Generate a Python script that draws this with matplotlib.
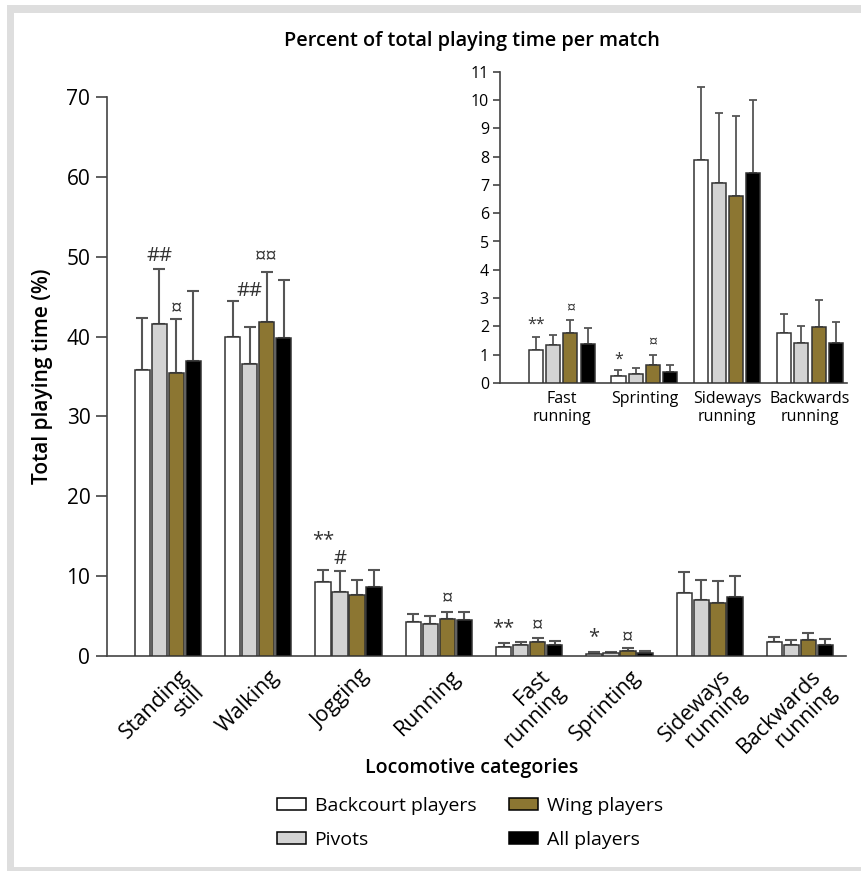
import numpy as np
import matplotlib
matplotlib.use("Agg")
import matplotlib.pyplot as plt
from matplotlib.patches import Rectangle, Patch

plt.rcParams['font.family'] = ['Open Sans', 'DejaVu Sans']

categories = ["Standing\nstill", "Walking", "Jogging", "Running", "Fast\nrunning",
              "Sprinting", "Sideways\nrunning", "Backwards\nrunning"]
inset_categories = ["Fast\nrunning", "Sprinting", "Sideways\nrunning", "Backwards\nrunning"]
groups = ["Backcourt players", "Pivots", "Wing players", "All players"]

backcourt = [35.8, 40.0, 9.3, 4.3, 1.15, 0.25, 7.87, 1.78]
pivots = [41.6, 36.6, 8.0, 4.0, 1.35, 0.33, 7.07, 1.40]
wing = [35.5, 41.8, 7.6, 4.6, 1.75, 0.62, 6.60, 1.97]
all_players = [37.0, 39.8, 8.7, 4.45, 1.38, 0.38, 7.43, 1.40]

sd_backcourt = [6.5, 4.5, 1.5, 1.0, 0.47, 0.20, 2.60, 0.65]
sd_pivots = [6.8, 4.6, 2.7, 1.0, 0.35, 0.19, 2.48, 0.60]
sd_wing = [6.75, 6.3, 1.9, 0.9, 0.48, 0.38, 2.85, 0.96]
sd_all = [8.7, 7.3, 2.05, 1.05, 0.55, 0.27, 2.57, 0.77]

# significance marks: (category index, group index, symbol, pad above error bar)
marks_main = [(0, 1, "##", 1.7), (0, 2, "¤", 1.2), (1, 1, "##", 4.5), (1, 2, "¤¤", 1.8),
              (2, 0, "**", 3.7), (2, 1, "#", 1.5), (3, 2, "¤", 1.6),
              (4, 0, "**", 1.9), (4, 2, "¤", 1.5), (5, 0, "*", 1.9), (5, 2, "¤", 1.25)]
marks_inset = [(0, 0, "**", 0.43), (0, 2, "¤", 0.38), (1, 0, "*", 0.36), (1, 2, "¤", 0.41)]

means = np.array([backcourt, pivots, wing, all_players])
sds = np.array([sd_backcourt, sd_pivots, sd_wing, sd_all])
colors = ["white", "#d3d3d3", "#8c7632", "black"]
edge = "#333333"
ecol = "#555555"

fig = plt.figure(figsize=(8.62, 8.71), dpi=100, facecolor="white")
fig.patches.append(Rectangle((7/862, 0), 2, 1 - 5/871, transform=fig.transFigure,
                             facecolor="#dedede", edgecolor="none", zorder=-10))
fig.patches.append(Rectangle((14/862, 4/871), 2, 1 - 17/871, transform=fig.transFigure,
                             facecolor="white", edgecolor="none", zorder=-9))


def draw_bars(ax, idx, step, width, capsize, lw, marks, fs):
    x = np.arange(len(idx))
    for g in range(4):
        xs = x + (g - 1.5) * step
        m = means[g, idx]
        s = sds[g, idx]
        ax.bar(xs, m, width, color=colors[g], edgecolor=edge, linewidth=1.1, zorder=3)
        ax.errorbar(xs, m, yerr=[np.zeros_like(s), s], fmt="none", ecolor=ecol,
                    elinewidth=lw, capsize=capsize, capthick=lw, zorder=2)
    for c, g, sym, pad in marks:
        xx = c + (g - 1.5) * step
        yy = means[g, idx[c]] + sds[g, idx[c]] + pad
        ax.text(xx, yy, sym, ha="center", va="center", fontsize=fs, color="#333333")
    for sp in ["top", "right"]:
        ax.spines[sp].set_visible(False)
    for sp in ["left", "bottom"]:
        ax.spines[sp].set_color("#444444")
        ax.spines[sp].set_linewidth(1.2)


# main chart
ax = fig.add_axes([107/862, 1 - 656/871, 739/862, 559/871])
draw_bars(ax, list(range(8)), 0.188, 0.17, 4, 1.5, marks_main, 14.5)
ax.set_xlim(-0.675, 7.51)
ax.set_ylim(0, 70)
ax.set_yticks(range(0, 71, 10))
ax.tick_params(axis="y", length=8, width=1.2, color="#444444", labelsize=15, pad=4)
ax.tick_params(axis="x", length=0, pad=7)
ax.set_xticks(np.arange(8) + 0.12)
ax.set_xticklabels(categories, rotation=45, ha="right", va="top", rotation_mode="anchor",
                   multialignment="right", fontsize=15.5, linespacing=1.05)
ax.set_ylabel("Total playing time (%)", fontsize=15, fontweight="semibold", labelpad=10)
fig.text(472/862, 1 - 768/871, "Locomotive categories", ha="center", va="center",
         fontsize=14, fontweight="semibold")

# inset
axi = fig.add_axes([500/862, 1 - 383/871, 347/862, 311.3/871])
draw_bars(axi, [4, 5, 6, 7], 0.209, 0.17, 3, 1.3, marks_inset, 11.5)
axi.set_xlim(-0.745, 3.447)
axi.set_ylim(0, 11)
axi.set_yticks(range(0, 12))
axi.tick_params(axis="y", length=5, width=1.2, color="#444444", labelsize=11.5, pad=3)
axi.tick_params(axis="x", length=0, pad=6)
axi.set_xticks(range(4))
axi.set_xticklabels(inset_categories, fontsize=11.5, linespacing=1.1)

fig.text(472/862, 1 - 41/871, "Percent of total playing time per match", ha="center",
         va="center", fontsize=14.3, fontweight="semibold")

handles = [Patch(facecolor=colors[g], edgecolor="black", linewidth=1.1) for g in range(4)]
fig.legend(handles, groups, ncol=2, loc="center", bbox_to_anchor=(470/862, 1 - 823/871),
           frameon=False, fontsize=14, handlelength=1.5, handleheight=0.55,
           handletextpad=0.45, columnspacing=1.7, labelspacing=0.8)

fig.savefig("out.png", dpi=100)
